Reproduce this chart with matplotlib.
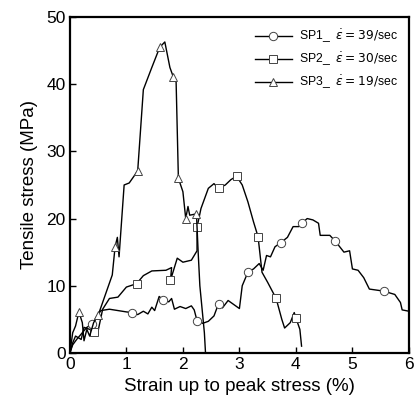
import matplotlib
matplotlib.use("Agg")
import matplotlib.pyplot as plt

plt.rcParams['font.family'] = ['Liberation Sans', 'DejaVu Sans']
plt.rcParams['mathtext.fontset'] = 'dejavusans'

# SP1 (circles)
sp1_x = [0, 0.05, 0.12, 0.2, 0.3, 0.4, 0.48, 0.55, 0.7, 0.85, 1.0, 1.1, 1.2, 1.3,
         1.38, 1.45, 1.5, 1.58, 1.65, 1.75, 1.8, 1.85, 1.95, 2.05, 2.15, 2.2, 2.25,
         2.35, 2.45, 2.55, 2.63, 2.7, 2.8, 2.9, 3.0, 3.05, 3.15, 3.25, 3.35, 3.42,
         3.48, 3.55, 3.63, 3.73, 3.85, 3.95, 4.05, 4.1, 4.2, 4.3, 4.4, 4.43, 4.6,
         4.7, 4.85, 4.95, 5.0, 5.1, 5.2, 5.3, 5.55, 5.75, 5.85, 5.88, 6.0]
sp1_y = [0, 1.2, 2.0, 2.8, 3.8, 4.3, 5.5, 6.3, 6.5, 6.3, 6.1, 6.0, 5.7, 6.2,
         5.8, 6.8, 6.3, 8.4, 7.9, 7.6, 8.1, 6.5, 6.9, 6.6, 7.0, 6.4, 4.8,
         4.4, 4.7, 5.5, 7.3, 6.7, 7.8, 7.2, 6.6, 10.0, 12.0, 12.5, 13.3, 12.3,
         14.5, 14.3, 15.8, 16.4, 17.2, 18.8, 18.8, 19.3, 20.0, 19.8, 19.3, 17.5, 17.5,
         16.6, 15.0, 15.2, 12.5, 12.3, 11.2, 9.5, 9.2, 8.7, 7.5, 6.4, 6.2]
sp1_marks = [5, 11, 18, 26, 30, 36, 43, 47, 53, 60]

# SP2 (squares)
sp2_x = [0, 0.05, 0.1, 0.2, 0.25, 0.35, 0.43, 0.5, 0.58, 0.7, 0.85, 1.0, 1.18,
         1.3, 1.45, 1.7, 1.8, 1.78, 1.9, 2.0, 2.15, 2.25, 2.25, 2.32, 2.45, 2.55,
         2.63, 2.75, 2.85, 2.95, 3.05, 3.15, 3.25, 3.33, 3.4, 3.5, 3.65, 3.75,
         3.8, 3.9, 3.97, 4.0, 4.07, 4.1]
sp2_y = [0, 1.5, 2.5, 2.0, 3.8, 3.5, 3.1, 3.3, 6.5, 8.1, 8.3, 9.8, 10.3,
         11.5, 12.2, 12.3, 12.7, 10.8, 14.1, 13.5, 13.8, 15.2, 18.7, 21.5, 24.5, 25.2,
         24.5, 25.0, 25.8, 26.3, 25.0, 22.5, 19.5, 17.3, 12.0, 10.5, 8.1, 5.0,
         3.7, 4.5, 6.0, 5.2, 3.5, 1.0]
sp2_marks = [6, 12, 17, 22, 26, 29, 33, 36, 41]

# SP3 (triangles)
sp3_x = [0, 0.05, 0.1, 0.16, 0.22, 0.25, 0.3, 0.35, 0.42, 0.5, 0.6, 0.75, 0.8,
         0.84, 0.87, 0.96, 1.05, 1.2, 1.3, 1.45, 1.59, 1.68, 1.77, 1.83, 1.88,
         1.92, 2.0, 2.05, 2.09, 2.12, 2.24, 2.27, 2.3, 2.38, 2.4]
sp3_y = [0, 3.0, 4.0, 6.1, 4.5, 1.8, 3.5, 2.5, 4.5, 5.6, 8.0, 11.6, 15.8,
         17.2, 14.3, 25.0, 25.3, 27.1, 39.2, 42.5, 45.5, 46.3, 42.5, 41.1, 40.3,
         26.0, 24.0, 20.0, 21.8, 20.5, 20.7, 15.0, 10.0, 3.0, 0]
sp3_marks = [3, 9, 12, 17, 20, 23, 25, 27, 30]

labels = [r'SP1_  $\dot{\varepsilon}=39/$sec',
          r'SP2_  $\dot{\varepsilon}=30/$sec',
          r'SP3_  $\dot{\varepsilon}=19/$sec']

fig = plt.figure(figsize=(4.16, 4.07), dpi=100)
ax = fig.add_axes([0.168, 0.133, 0.815, 0.825])

style = dict(color='black', linewidth=1.0, markerfacecolor='white',
             markeredgecolor='#444444', markeredgewidth=0.7, markersize=6)
ax.plot(sp1_x, sp1_y, marker='o', markevery=sp1_marks, label=labels[0], **style)
ax.plot(sp2_x, sp2_y, marker='s', markevery=sp2_marks, label=labels[1], **style)
ax.plot(sp3_x, sp3_y, marker='^', markevery=sp3_marks, label=labels[2], **style)

ax.set_xlim(0, 6)
ax.set_ylim(0, 50)
ax.set_xticks(range(0, 7))
ax.set_yticks(range(0, 51, 10))
ax.tick_params(direction='in', length=4, width=1, labelsize=12.5, pad=3)
for s in ax.spines.values():
    s.set_linewidth(1.6)

ax.set_xlabel('Strain up to peak stress (%)', fontsize=13.5, labelpad=4)
ax.set_ylabel('Tensile stress (MPa)', fontsize=13.5, labelpad=6)

ax.legend(loc='upper right', frameon=False, fontsize=8.8, handlelength=3.0,
          labelspacing=0.45, borderaxespad=0.5, handletextpad=0.6)

fig.savefig('out.png', dpi=100)
